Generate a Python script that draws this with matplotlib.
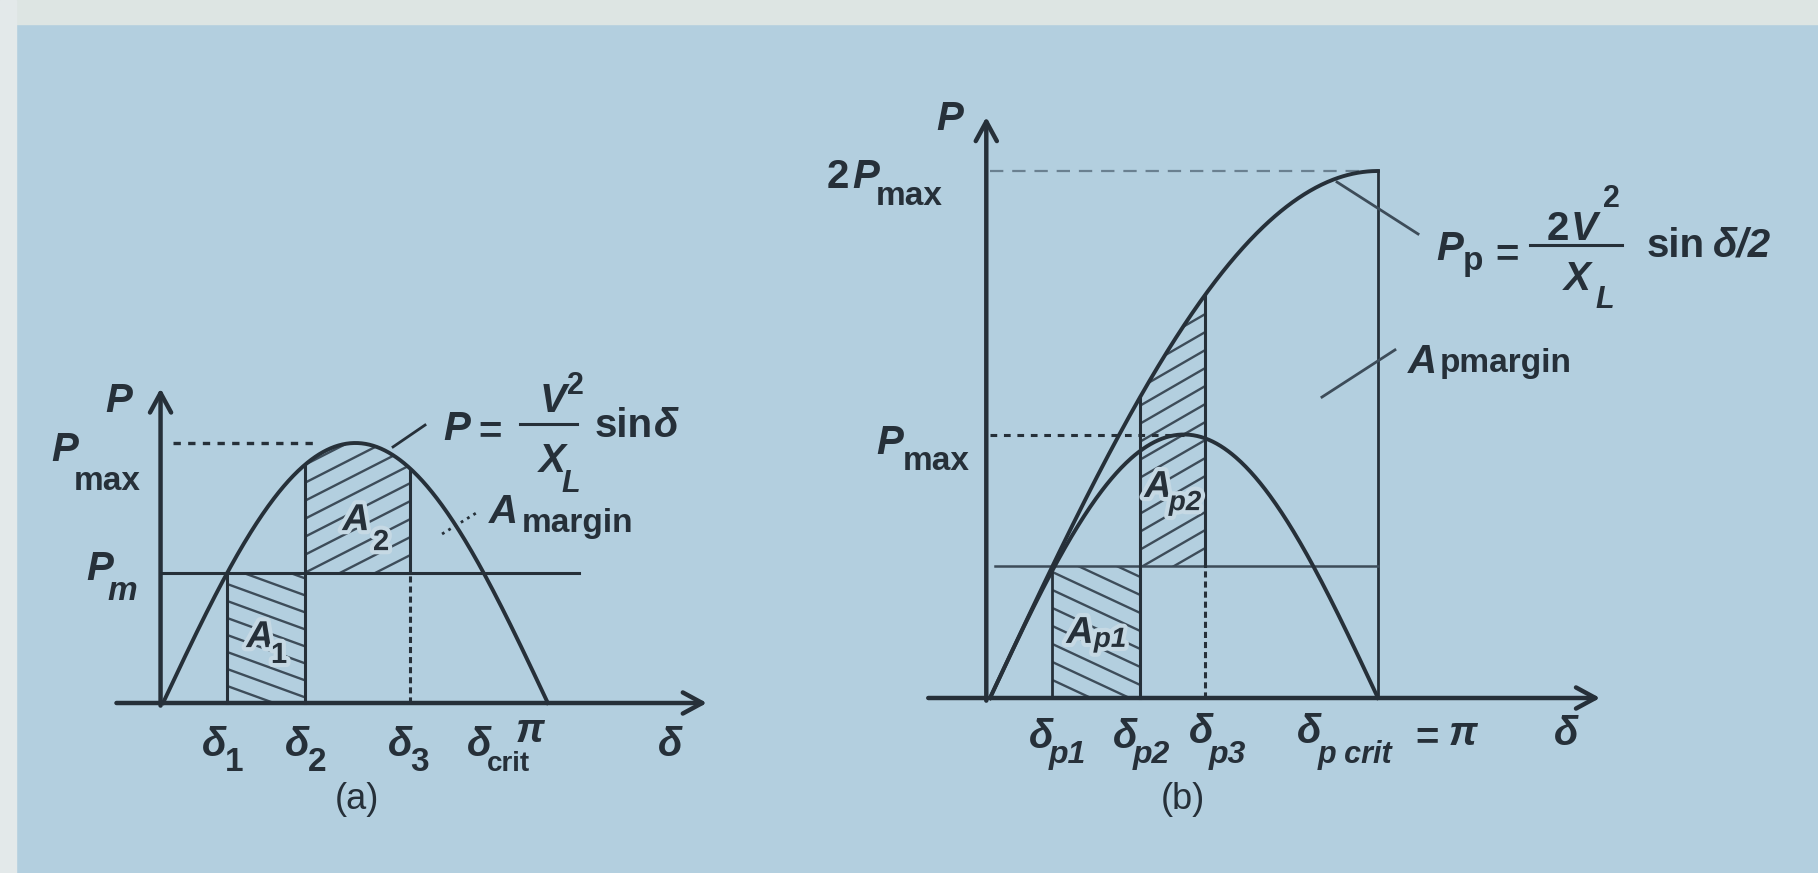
import numpy as np
import matplotlib.pyplot as plt
import matplotlib.patheffects as pe
from matplotlib.patches import Polygon, Rectangle

W, H = 1818, 873
BG = '#b3cfdf'
INK = '#263039'
SOFT = '#3d4c59'
FONT = 'Liberation Sans'

# power-angle data: angles in rad, power in units of Pmax
p_max = 1.0
p_m = 0.5
delta_a = [0.524, 1.16, 2.02]      # delta1, delta2, delta3
delta_b = [0.505, 1.215, 1.74]     # delta_p1, delta_p2, delta_p3
delta_pi = np.pi


def panel(x0, y0, sx, sy, xlim, ylim):
    # axes whose data origin sits at pixel (x0, y0), sx/sy pixels per unit
    left = x0 + xlim[0] * sx
    right = x0 + xlim[1] * sx
    top = y0 - ylim[1] * sy
    bottom = y0 - ylim[0] * sy
    ax = fig.add_axes([left / W, 1 - bottom / H, (right - left) / W, (bottom - top) / H])
    ax.set_xlim(*xlim)
    ax.set_ylim(*ylim)
    ax.axis('off')
    ax.patch.set_alpha(0)
    return ax


def txt(ax, x, y, s, size=29, italic=True, weight='bold', ha='center', va='baseline', halo=False):
    t = ax.text(x, y, s, fontsize=size, fontstyle='italic' if italic else 'normal',
                fontweight=weight, family=FONT, ha=ha, va=va, color=INK, zorder=6)
    if halo:
        t.set_path_effects([pe.withStroke(linewidth=6, foreground='#c6d9e4')])
    return t


def hatch(ax, poly, angle, gap, sx, sy):
    patch = Polygon(poly, closed=True, fill=False, edgecolor='none')
    ax.add_patch(patch)
    poly = np.asarray(poly)
    k = np.tan(np.radians(angle)) * sx / sy
    c = poly[:, 1] - k * poly[:, 0]
    xa, xb = poly[:, 0].min(), poly[:, 0].max()
    for c0 in np.arange(c.min(), c.max() + gap / sy, gap / sy):
        ln, = ax.plot([xa, xb], [k * xa + c0, k * xb + c0], color=SOFT, lw=1.7,
                      solid_capstyle='butt', zorder=1)
        ln.set_clip_path(patch)


def arrow(ax, start, end):
    ax.annotate('', xy=end, xytext=start, annotation_clip=False,
                arrowprops=dict(arrowstyle='->,head_length=0.7,head_width=0.38', lw=3.2,
                                color=INK, shrinkA=0, shrinkB=0, mutation_scale=20))


fig = plt.figure(figsize=(W / 100, H / 100), dpi=100, facecolor=BG)
fig.patches.append(Rectangle((0, 1 - 24 / H), 1, 24 / H, transform=fig.transFigure,
                             color='#dde5e3', zorder=0))
fig.patches.append(Rectangle((0, 0), 16 / W, 1, transform=fig.transFigure,
                             color='#e3e9ea', zorder=0))

# ---------------- (a) single line ----------------
sxa, sya = 122.5, 260
ax = panel(163, 703, sxa, sya, (-1.33, 5.2), (-0.65, 1.43))
d = np.linspace(0, delta_pi, 400)
d1, d2, d3 = delta_a

hatch(ax, [(d1, 0), (d2, 0), (d2, p_m), (d1, p_m)], -20, 17, sxa, sya)
dd = np.linspace(d2, d3, 60)
hatch(ax, [(d2, p_m)] + list(zip(dd, p_max * np.sin(dd))) + [(d3, p_m)], 27, 18, sxa, sya)

arrow(ax, (-0.38, 0), (4.44, 0))
arrow(ax, (-0.02, -0.01), (-0.02, 1.21))
ax.plot(d, p_max * np.sin(d), color=INK, lw=2.8, zorder=3)
ax.plot([0, 3.40], [p_m, p_m], color=INK, lw=2.2, zorder=2)
ax.plot([0.08, 1.25], [p_max, p_max], color=INK, lw=2.4, ls=(0, (2.2, 2.2)), zorder=2)
ax.plot([d1, d1], [0, p_m], color=INK, lw=2.2, zorder=2)
ax.plot([d2, d2], [0, p_max * np.sin(d2)], color=INK, lw=2.2, zorder=2)
ax.plot([d3, d3], [0, p_m], color=INK, lw=2.2, ls=(0, (2, 1.3)), zorder=2)
ax.plot([d3, d3], [p_m, p_max * np.sin(d3)], color=INK, lw=2.2, zorder=2)
ax.plot([1.878, 2.139], [0.985, 1.069], color=INK, lw=2)
ax.plot([2.278, 2.571], [0.65, 0.735], color=INK, lw=2, ls=':')

txt(ax, -0.36, 1.119, 'P')
txt(ax, -0.80, 0.931, 'P')
txt(ax, -0.457, 0.819, 'max', 24, italic=False)
txt(ax, -0.514, 0.473, 'P')
txt(ax, -0.335, 0.396, 'm', 24)

txt(ax, 2.40, 1.012, 'P')
txt(ax, 2.67, 1.042, '=', italic=False, va='center')
ax.plot([2.914, 3.38], [1.073, 1.073], color=INK, lw=2.2)
txt(ax, 3.184, 1.119, 'V')
txt(ax, 3.37, 1.19, '2', 22, italic=False)
txt(ax, 3.176, 0.888, 'X')
txt(ax, 3.33, 0.812, 'L', 22)
txt(ax, 3.527, 1.023, 'sin', italic=False, ha='left')
txt(ax, 4.106, 1.023, 'δ')
txt(ax, 2.776, 0.692, 'A')
txt(ax, 2.931, 0.658, 'margin', 24, italic=False, ha='left')

txt(ax, 0.792, 0.215, 'A', 27, halo=True)
txt(ax, 0.947, 0.154, '1', 21, italic=False, halo=True)
txt(ax, 1.576, 0.665, 'A', 27, halo=True)
txt(ax, 1.78, 0.588, '2', 21, italic=False, halo=True)

for x, sub in [(0.416, '1'), (1.094, '2'), (1.935, '3')]:
    txt(ax, x, -0.204, 'δ')
    txt(ax, x + 0.163, -0.262, sub, 24, italic=False)
txt(ax, 2.58, -0.204, 'δ')
txt(ax, 2.82, -0.262, 'crit', 20, italic=False)
txt(ax, 3.0, -0.15, 'π')
txt(ax, 4.14, -0.204, 'δ')
txt(ax, 1.584, -0.373, '(a)', 26, italic=False, weight='normal', va='center')

# ---------------- (b) with series compensation ----------------
sxb, syb = 123.5, 263.5
ax = panel(990, 698, sxb, syb, (-1.46, 6.7), (-0.66, 2.31))
e1, e2, e3 = delta_b
pp = lambda x: 2 * p_max * np.sin(np.asarray(x) / 2)

hatch(ax, [(e1, 0), (e2, 0), (e2, p_m), (e1, p_m)], -25, 18, sxb, syb)
ee = np.linspace(e2, e3, 60)
hatch(ax, [(e2, p_m)] + list(zip(ee, pp(ee))) + [(e3, p_m)], 30, 18, sxb, syb)

arrow(ax, (-0.50, 0), (4.94, 0))
arrow(ax, (-0.03, -0.01), (-0.03, 2.205))
ax.plot(d, pp(d), color=INK, lw=2.8, zorder=3)
ax.plot(d, p_max * np.sin(d), color=INK, lw=2.8, zorder=3)
ax.plot([delta_pi, delta_pi], [0, 2 * p_max], color=INK, lw=2.0, zorder=2)
ax.plot([0, delta_pi], [2 * p_max, 2 * p_max], color='#6a8090', lw=1.6, ls=(0, (6, 4)), zorder=2)
ax.plot([0, np.pi / 2], [p_max, p_max], color=INK, lw=2.2, ls=(0, (2.2, 2.2)), zorder=2)
ax.plot([0.04, delta_pi], [p_m, p_m], color=SOFT, lw=1.8, zorder=2)
ax.plot([e1, e1], [0, p_m], color=INK, lw=2.0, zorder=2)
ax.plot([e2, e2], [0, pp(e2)], color=INK, lw=2.2, zorder=2)
ax.plot([e3, e3], [0, p_m], color=INK, lw=2.2, ls=(0, (2, 1.3)), zorder=2)
ax.plot([e3, e3], [p_m, pp(e3)], color=INK, lw=2.2, zorder=2)
ax.plot([2.81, 3.466], [1.958, 1.761], color=SOFT, lw=2)
ax.plot([2.688, 3.279], [1.142, 1.321], color=SOFT, lw=2)

txt(ax, -0.324, 2.156, 'P')
txt(ax, -1.23, 1.935, '2', italic=False)
txt(ax, -1.004, 1.935, 'P')
txt(ax, -0.65, 1.871, 'max', 24, italic=False)
txt(ax, -0.81, 0.926, 'P')
txt(ax, -0.437, 0.865, 'max', 24, italic=False)

txt(ax, 3.725, 1.662, 'P')
txt(ax, 3.91, 1.624, 'p', 24, italic=False)
txt(ax, 4.186, 1.681, '=', italic=False, va='center')
ax.plot([4.372, 5.117], [1.719, 1.719], color=INK, lw=2.2)
txt(ax, 4.6, 1.738, '2', italic=False)
txt(ax, 4.81, 1.738, 'V')
txt(ax, 5.03, 1.865, '2', 22, italic=False)
txt(ax, 4.753, 1.548, 'X')
txt(ax, 4.98, 1.48, 'L', 22)
txt(ax, 5.32, 1.674, 'sin', italic=False, ha='left')
txt(ax, 5.854, 1.674, 'δ/2', ha='left')
txt(ax, 3.498, 1.233, 'A')
txt(ax, 3.644, 1.237, 'pmargin', 24, italic=False, ha='left')

txt(ax, 0.729, 0.209, 'A', 27, halo=True)
txt(ax, 0.972, 0.194, 'p1', 20, halo=True)
txt(ax, 1.36, 0.763, 'A', 27, halo=True)
txt(ax, 1.579, 0.713, 'p2', 20, halo=True)

for x, y, sub in [(0.413, -0.19, 'p1'), (1.093, -0.19, 'p2'), (1.709, -0.171, 'p3')]:
    txt(ax, x, y, 'δ')
    txt(ax, x + 0.215, -0.247, sub, 23)
txt(ax, 2.583, -0.171, 'δ')
txt(ax, 2.955, -0.247, 'p crit', 22)
txt(ax, 3.538, -0.152, '=', italic=False, va='center')
txt(ax, 3.83, -0.178, 'π')
txt(ax, 4.664, -0.178, 'δ')
txt(ax, 1.563, -0.387, '(b)', 26, italic=False, weight='normal', va='center')

fig.savefig('out.png', dpi=100, facecolor=BG)
